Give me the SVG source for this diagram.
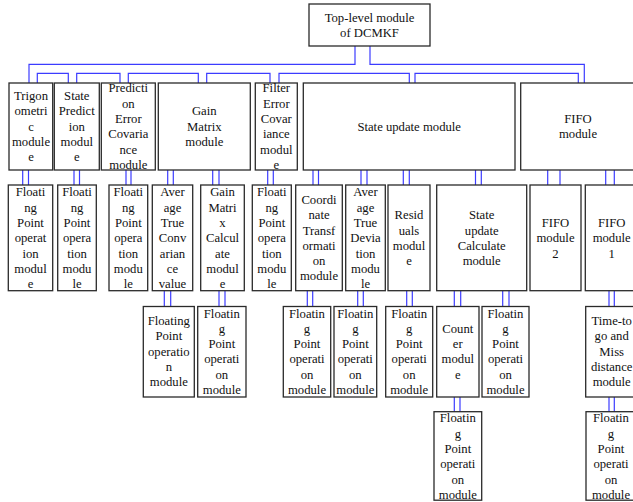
<svg xmlns="http://www.w3.org/2000/svg" width="633" height="502" viewBox="0 0 633 502">
<style>
.b{fill:#fff;stroke:#2a2a2a;stroke-width:1.3}
.t{font-family:"Liberation Serif","Times New Roman",serif;font-size:12.7px;fill:#111;text-anchor:middle;dominant-baseline:central}
.c{fill:none;stroke:#3c3cff;stroke-width:1.2}
</style>
<rect width="633" height="502" fill="#fff"/>
<g id="connectors" class="c">
<path d="M355,46V64.3H29V83M370,46V64.3H584.3V83"/>
<path d="M37.3,83V73.3H68.3V83M76.7,83V73.3H120V83M128.3,83V73.3H198.3V83M206.7,83V73.3H270V83M279,83V73.3H409.3V83M415,83V73.3H578.3V83"/>
<path d="M22.7,170V185M28.5,170V185M74,170V185M79.5,170V185M126,170V185M131,170V185M167.7,170V185M173.3,170V185M212.7,170V185M219,170V185M267.7,170V185M273.3,170V185M313,170V185M318.5,170V185M361,170V185M367,170V185M403.3,170V185M409.3,170V185M475.5,170V185M481.3,170V185M547.7,170V185M560,170V185M605.7,170V185M614.3,170V185"/>
<path d="M164.3,290.7V306.5M170.7,290.7V306.5M219,290.7V306.5M225,290.7V306.5M307.3,290.7V306.5M312.7,290.7V306.5M357.7,290.7V306.5M363.3,290.7V306.5M406.7,290.7V306.5M412.3,290.7V306.5M454.3,290.7V306.5M460.7,290.7V306.5M502.7,290.7V306.5M509,290.7V306.5M609,290.7V306.5M614.3,290.7V306.5"/>
<path d="M454.3,397V411.7M460,397V411.7M609,397V411.7M614.3,397V411.7"/>
</g>
<g id="top"><rect class="b" x="309" y="4" width="121" height="42"/><text class="t" x="369.5" y="17.9">Top-level module</text><text class="t" x="369.5" y="33.2">of DCMKF</text></g>
<g id="trig"><rect class="b" x="9" y="83" width="43.7" height="87"/><text class="t" x="31" y="95.9">Trigon</text><text class="t" x="31" y="111.2">ometri</text><text class="t" x="31" y="126.5">c</text><text class="t" x="31" y="141.8">module</text><text class="t" x="31" y="157.1">e</text></g>
<g id="statepred"><rect class="b" x="54.3" y="83" width="45" height="87"/><text class="t" x="76.8" y="95.9">State</text><text class="t" x="76.8" y="111.2">Predict</text><text class="t" x="76.8" y="126.5">ion</text><text class="t" x="76.8" y="141.8">modul</text><text class="t" x="76.8" y="157.1">e</text></g>
<g id="prederr"><rect class="b" x="101.3" y="83" width="54" height="87"/><text class="t" x="128.3" y="88.3">Predicti</text><text class="t" x="128.3" y="103.6">on</text><text class="t" x="128.3" y="118.9">Error</text><text class="t" x="128.3" y="134.2">Covaria</text><text class="t" x="128.3" y="149.5">nce</text><text class="t" x="128.3" y="164.8">module</text></g>
<g id="gain"><rect class="b" x="158.3" y="83" width="92" height="87"/><text class="t" x="204.3" y="111.2">Gain</text><text class="t" x="204.3" y="126.5">Matrix</text><text class="t" x="204.3" y="141.8">module</text></g>
<g id="filter"><rect class="b" x="255.3" y="83" width="42" height="87"/><text class="t" x="276.3" y="88.3">Filter</text><text class="t" x="276.3" y="103.6">Error</text><text class="t" x="276.3" y="118.9">Covar</text><text class="t" x="276.3" y="134.2">iance</text><text class="t" x="276.3" y="149.5">modul</text><text class="t" x="276.3" y="164.8">e</text></g>
<g id="stateupdate"><rect class="b" x="303.3" y="83" width="211.7" height="87"/><text class="t" x="409.2" y="126.5">State update module</text></g>
<g id="fifo"><rect class="b" x="520.7" y="83" width="130" height="87"/><text class="t" x="578" y="118.9">FIFO</text><text class="t" x="578" y="134.2">module</text></g>
<g id="fp1"><rect class="b" x="8.3" y="185" width="44.4" height="105.7"/><text class="t" x="30.5" y="192.3">Floati</text><text class="t" x="30.5" y="207.6">ng</text><text class="t" x="30.5" y="222.9">Point</text><text class="t" x="30.5" y="238.2">operat</text><text class="t" x="30.5" y="253.5">ion</text><text class="t" x="30.5" y="268.8">modul</text><text class="t" x="30.5" y="284.1">e</text></g>
<g id="fp2"><rect class="b" x="57.7" y="185" width="38.6" height="105.7"/><text class="t" x="77" y="192.3">Floati</text><text class="t" x="77" y="207.6">ng</text><text class="t" x="77" y="222.9">Point</text><text class="t" x="77" y="238.2">opera</text><text class="t" x="77" y="253.5">tion</text><text class="t" x="77" y="268.8">modu</text><text class="t" x="77" y="284.1">le</text></g>
<g id="fp3"><rect class="b" x="109" y="185" width="38.7" height="105.7"/><text class="t" x="128.3" y="192.3">Floati</text><text class="t" x="128.3" y="207.6">ng</text><text class="t" x="128.3" y="222.9">Point</text><text class="t" x="128.3" y="238.2">opera</text><text class="t" x="128.3" y="253.5">tion</text><text class="t" x="128.3" y="268.8">modu</text><text class="t" x="128.3" y="284.1">le</text></g>
<g id="avgcov"><rect class="b" x="152.3" y="185" width="40.4" height="105.7"/><text class="t" x="172.5" y="192.3">Aver</text><text class="t" x="172.5" y="207.6">age</text><text class="t" x="172.5" y="222.9">True</text><text class="t" x="172.5" y="238.2">Conv</text><text class="t" x="172.5" y="253.5">arian</text><text class="t" x="172.5" y="268.8">ce</text><text class="t" x="172.5" y="284.1">value</text></g>
<g id="gaincalc"><rect class="b" x="200.7" y="185" width="43.6" height="105.7"/><text class="t" x="222.5" y="192.3">Gain</text><text class="t" x="222.5" y="207.6">Matri</text><text class="t" x="222.5" y="222.9">x</text><text class="t" x="222.5" y="238.2">Calcul</text><text class="t" x="222.5" y="253.5">ate</text><text class="t" x="222.5" y="268.8">modul</text><text class="t" x="222.5" y="284.1">e</text></g>
<g id="fp4"><rect class="b" x="252.3" y="185" width="39" height="105.7"/><text class="t" x="271.8" y="192.3">Floati</text><text class="t" x="271.8" y="207.6">ng</text><text class="t" x="271.8" y="222.9">Point</text><text class="t" x="271.8" y="238.2">opera</text><text class="t" x="271.8" y="253.5">tion</text><text class="t" x="271.8" y="268.8">modu</text><text class="t" x="271.8" y="284.1">le</text></g>
<g id="coord"><rect class="b" x="295.7" y="185" width="46.6" height="105.7"/><text class="t" x="319" y="199.9">Coordi</text><text class="t" x="319" y="215.2">nate</text><text class="t" x="319" y="230.5">Transf</text><text class="t" x="319" y="245.8">ormati</text><text class="t" x="319" y="261.1">on</text><text class="t" x="319" y="276.4">module</text></g>
<g id="avgdev"><rect class="b" x="345.7" y="185" width="39.6" height="105.7"/><text class="t" x="365.5" y="192.3">Aver</text><text class="t" x="365.5" y="207.6">age</text><text class="t" x="365.5" y="222.9">True</text><text class="t" x="365.5" y="238.2">Devia</text><text class="t" x="365.5" y="253.5">tion</text><text class="t" x="365.5" y="268.8">modu</text><text class="t" x="365.5" y="284.1">le</text></g>
<g id="resid"><rect class="b" x="388" y="185" width="42" height="105.7"/><text class="t" x="409" y="215.2">Resid</text><text class="t" x="409" y="230.5">uals</text><text class="t" x="409" y="245.8">modul</text><text class="t" x="409" y="261.1">e</text></g>
<g id="sucalc"><rect class="b" x="436.7" y="185" width="90" height="105.7"/><text class="t" x="481.7" y="215.2">State</text><text class="t" x="481.7" y="230.5">update</text><text class="t" x="481.7" y="245.8">Calculate</text><text class="t" x="481.7" y="261.1">module</text></g>
<g id="fifo2"><rect class="b" x="530" y="185" width="51" height="105.7"/><text class="t" x="555.5" y="222.9">FIFO</text><text class="t" x="555.5" y="238.2">module</text><text class="t" x="555.5" y="253.5">2</text></g>
<g id="fifo1"><rect class="b" x="585.3" y="185" width="53" height="105.7"/><text class="t" x="611.7" y="222.9">FIFO</text><text class="t" x="611.7" y="238.2">module</text><text class="t" x="611.7" y="253.5">1</text></g>
<g id="fp5"><rect class="b" x="143.3" y="306.5" width="51" height="90.5"/><text class="t" x="168.8" y="321.1">Floating</text><text class="t" x="168.8" y="336.4">Point</text><text class="t" x="168.8" y="351.7">operatio</text><text class="t" x="168.8" y="367">n</text><text class="t" x="168.8" y="382.3">module</text></g>
<g id="fp6"><rect class="b" x="197.7" y="306.5" width="48.3" height="90.5"/><text class="t" x="221.8" y="313.5">Floatin</text><text class="t" x="221.8" y="328.8">g</text><text class="t" x="221.8" y="344.1">Point</text><text class="t" x="221.8" y="359.4">operati</text><text class="t" x="221.8" y="374.7">on</text><text class="t" x="221.8" y="390">module</text></g>
<g id="fp7"><rect class="b" x="283.3" y="306.5" width="47.4" height="90.5"/><text class="t" x="307" y="313.5">Floatin</text><text class="t" x="307" y="328.8">g</text><text class="t" x="307" y="344.1">Point</text><text class="t" x="307" y="359.4">operati</text><text class="t" x="307" y="374.7">on</text><text class="t" x="307" y="390">module</text></g>
<g id="fp8"><rect class="b" x="334" y="306.5" width="42.7" height="90.5"/><text class="t" x="355.3" y="313.5">Floatin</text><text class="t" x="355.3" y="328.8">g</text><text class="t" x="355.3" y="344.1">Point</text><text class="t" x="355.3" y="359.4">operati</text><text class="t" x="355.3" y="374.7">on</text><text class="t" x="355.3" y="390">module</text></g>
<g id="fp9"><rect class="b" x="385.7" y="306.5" width="47" height="90.5"/><text class="t" x="409.2" y="313.5">Floatin</text><text class="t" x="409.2" y="328.8">g</text><text class="t" x="409.2" y="344.1">Point</text><text class="t" x="409.2" y="359.4">operati</text><text class="t" x="409.2" y="374.7">on</text><text class="t" x="409.2" y="390">module</text></g>
<g id="counter"><rect class="b" x="436.7" y="306.5" width="42.3" height="90.5"/><text class="t" x="457.8" y="328.8">Count</text><text class="t" x="457.8" y="344.1">er</text><text class="t" x="457.8" y="359.4">modul</text><text class="t" x="457.8" y="374.7">e</text></g>
<g id="fp10"><rect class="b" x="482" y="306.5" width="47" height="90.5"/><text class="t" x="505.5" y="313.5">Floatin</text><text class="t" x="505.5" y="328.8">g</text><text class="t" x="505.5" y="344.1">Point</text><text class="t" x="505.5" y="359.4">operati</text><text class="t" x="505.5" y="374.7">on</text><text class="t" x="505.5" y="390">module</text></g>
<g id="timetogo"><rect class="b" x="585.7" y="306.5" width="52" height="90.5"/><text class="t" x="611.7" y="321.1">Time-to</text><text class="t" x="611.7" y="336.4">go and</text><text class="t" x="611.7" y="351.7">Miss</text><text class="t" x="611.7" y="367">distance</text><text class="t" x="611.7" y="382.3">module</text></g>
<g id="fp11"><rect class="b" x="434" y="411.7" width="47.7" height="88.5"/><text class="t" x="457.8" y="418.3">Floatin</text><text class="t" x="457.8" y="433.6">g</text><text class="t" x="457.8" y="448.9">Point</text><text class="t" x="457.8" y="464.2">operati</text><text class="t" x="457.8" y="479.5">on</text><text class="t" x="457.8" y="494.8">module</text></g>
<g id="fp12"><rect class="b" x="586" y="411.7" width="52" height="88.5"/><text class="t" x="611" y="418.3">Floatin</text><text class="t" x="611" y="433.6">g</text><text class="t" x="611" y="448.9">Point</text><text class="t" x="611" y="464.2">operati</text><text class="t" x="611" y="479.5">on</text><text class="t" x="611" y="494.8">module</text></g>
</svg>
